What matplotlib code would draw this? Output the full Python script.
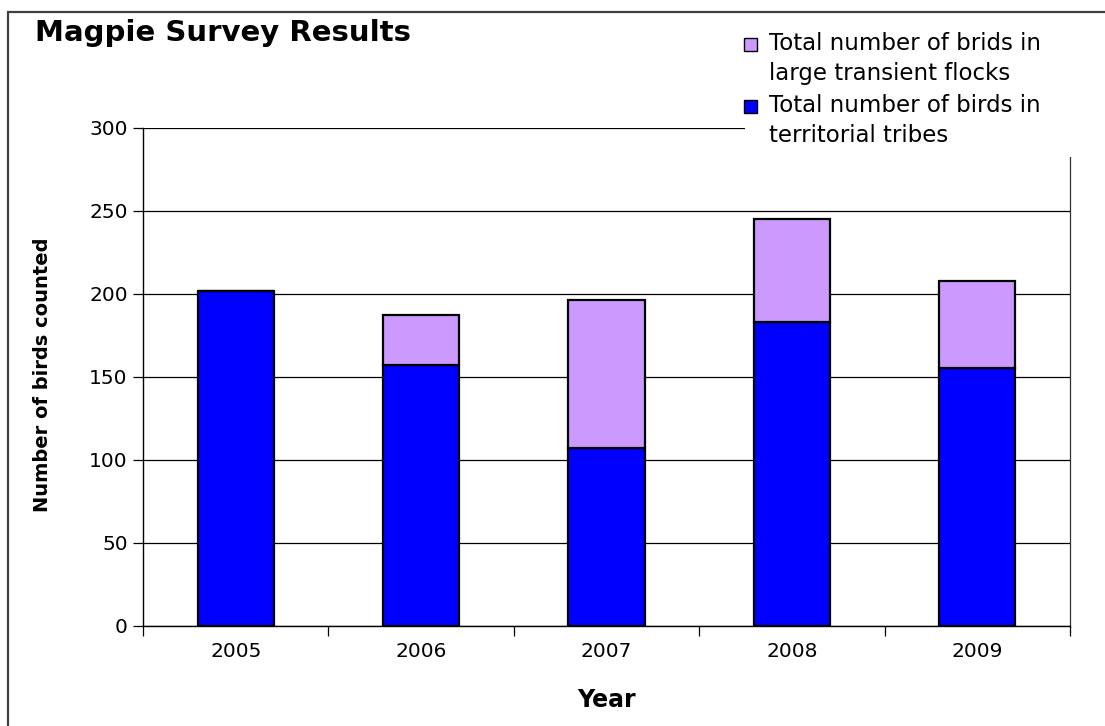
import numpy as np
import matplotlib
matplotlib.use("Agg")
import matplotlib.pyplot as plt
from matplotlib.patches import Rectangle

years = ["2005", "2006", "2007", "2008", "2009"]
territorial = [202, 157, 107, 183, 155]
flocks = [0, 30, 89, 62, 53]

label_flocks = "Total number of brids in\nlarge transient flocks"
label_terr = "Total number of birds in\nterritorial tribes"
col_terr = "#0000FF"
col_flocks = "#CC99FF"

W, H = 1105, 726


def fx(px):
    return px / W


def fy(py):
    return 1 - py / H


def main():
    plt.rcParams['font.family'] = ['DejaVu Sans']
    fig = plt.figure(figsize=(W / 100, H / 100), dpi=100)
    ax = fig.add_axes([fx(143), fy(625.5), fx(1070) - fx(143), fy(128) - fy(625.5)])

    x = np.arange(len(years))
    ax.bar(x, territorial, width=0.41, color=col_terr, edgecolor="black", linewidth=1.6, zorder=3)
    ax.bar(x, flocks, bottom=territorial, width=0.41, color=col_flocks, edgecolor="black",
           linewidth=1.6, zorder=3)

    ax.set_xlim(-0.5, len(years) - 0.5)
    ax.set_ylim(0, 300)
    ax.set_yticks(np.arange(0, 301, 50))
    ax.yaxis.grid(True, color="black", linewidth=0.9, zorder=0)
    ax.set_axisbelow(True)

    # etiquetas de categoria centradas, ticks entre categorias
    ax.set_xticks(np.arange(-0.5, len(years), 1.0))
    ax.set_xticklabels([])
    ax.set_xticks(x, minor=True)
    ax.set_xticklabels(years, minor=True, fontsize=14.5)
    ax.tick_params(axis="x", which="minor", length=0, pad=12)
    ax.tick_params(axis="x", which="major", length=7, direction="out", width=0.9)
    ax.tick_params(axis="y", length=7, direction="out", width=0.9, labelsize=14.5, pad=4)

    ax.spines["top"].set_visible(False)
    ax.spines["right"].set_color("#333333")
    ax.spines["right"].set_linewidth(0.9)
    ax.spines["left"].set_linewidth(1.0)
    ax.spines["bottom"].set_linewidth(1.0)

    ax.set_xlabel("Year", fontsize=17, fontweight="bold")
    ax.xaxis.set_label_coords(0.5, -0.125)
    ax.set_ylabel("Number of birds counted", fontsize=14, fontweight="bold")
    ax.yaxis.set_label_coords(-0.098, 0.5035)

    fig.text(fx(35), fy(41), "Magpie Survey Results", fontsize=21, fontweight="bold",
             va="baseline", ha="left")

    # marco exterior
    fig.patches.append(Rectangle((fx(8), fy(1000)), 2, fy(12) - fy(1000), transform=fig.transFigure,
                                 fill=False, edgecolor="#404040", linewidth=1.6, zorder=1))

    # leyenda
    fig.patches.append(Rectangle((fx(745), fy(157)), fx(1105) - fx(745), fy(20) - fy(157),
                                 transform=fig.transFigure, facecolor="white", edgecolor="none",
                                 zorder=5))
    fig.patches.append(Rectangle((fx(744), fy(51)), fx(13), fy(0) - fy(13), transform=fig.transFigure,
                                 facecolor=col_flocks, edgecolor="black", linewidth=1.0, zorder=6))
    fig.patches.append(Rectangle((fx(744), fy(113)), fx(13), fy(0) - fy(13), transform=fig.transFigure,
                                 facecolor=col_terr, edgecolor="black", linewidth=1.0, zorder=6))
    fs_leg = 16.5
    fig.text(fx(769), fy(50), label_flocks.split("\n")[0], fontsize=fs_leg, va="baseline", zorder=7)
    fig.text(fx(769), fy(80), label_flocks.split("\n")[1], fontsize=fs_leg, va="baseline", zorder=7)
    fig.text(fx(769), fy(112), label_terr.split("\n")[0], fontsize=fs_leg, va="baseline", zorder=7)
    fig.text(fx(769), fy(142), label_terr.split("\n")[1], fontsize=fs_leg, va="baseline", zorder=7)

    fig.savefig("out.png", dpi=100)


if __name__ == "__main__":
    main()
